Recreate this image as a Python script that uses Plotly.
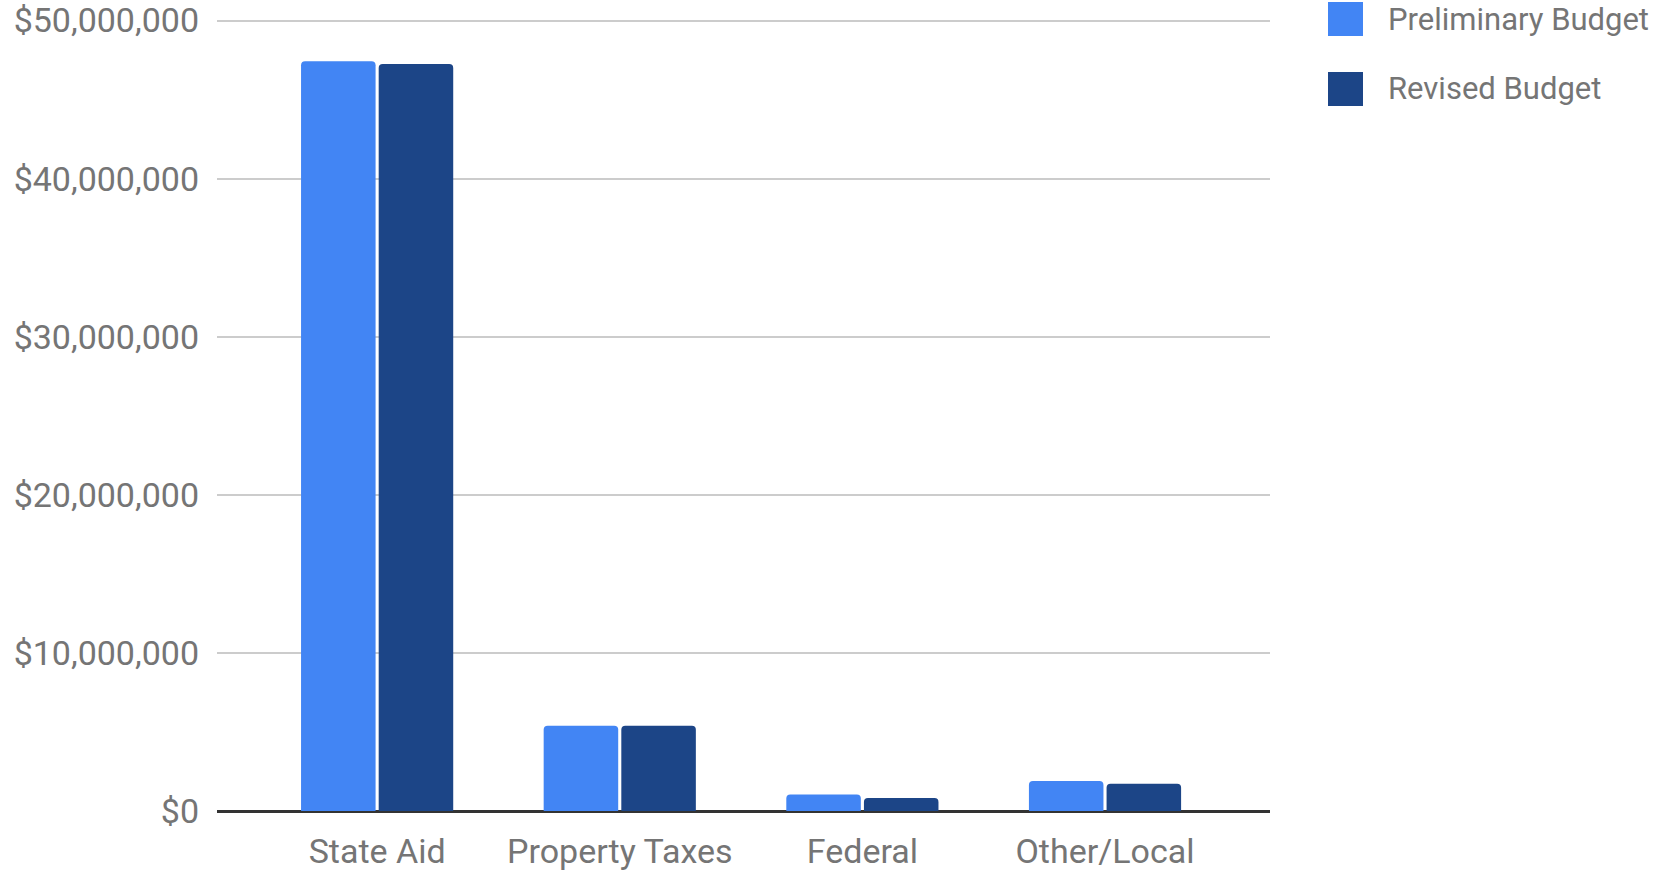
import plotly.graph_objects as go

categories = ["State Aid", "Property Taxes", "Federal", "Other/Local"]
preliminary = [47_420_000, 5_400_000, 1_040_000, 1_900_000]
revised = [47_250_000, 5_400_000, 830_000, 1_730_000]
series_names = ["Preliminary Budget", "Revised Budget"]
y_ticks = [0, 10_000_000, 20_000_000, 30_000_000, 40_000_000, 50_000_000]
y_tick_labels = ["$0", "$10,000,000", "$20,000,000", "$30,000,000", "$40,000,000", "$50,000,000"]

colors = ["#4285F4", "#1C4587"]
font_family = "Roboto"
gray = "#757575"

W, H = 1673, 870
ml, mr, mt, mb = 217, 403, 19, 59

fig = go.Figure()
for name, vals, c in zip(series_names, [preliminary, revised], colors):
    fig.add_trace(go.Bar(x=categories, y=vals, name=name, marker_color=c,
                         marker_line_width=0, showlegend=False))

fig.update_layout(
    width=W, height=H,
    margin=dict(l=ml, r=mr, t=mt, b=mb, pad=0, autoexpand=False),
    paper_bgcolor="white", plot_bgcolor="white",
    barmode="group", bargap=0.36, bargroupgap=0.04, barcornerradius=4,
    font=dict(family=font_family, color=gray, size=34),
)
fig.update_yaxes(range=[0, 50_100_000], tickvals=y_ticks, ticktext=y_tick_labels,
                 automargin=False,
                 showgrid=True, gridcolor="#cccccc", gridwidth=1.5,
                 zeroline=True, zerolinecolor="#333333", zerolinewidth=2.5,
                 showline=False, ticks="", ticklabelstandoff=17,
                 tickfont=dict(size=34, color=gray, family=font_family))
fig.update_xaxes(range=[-0.66, 3.68], showgrid=False, showline=False, ticks="",
                 automargin=False, ticklabelstandoff=17,
                 tickfont=dict(size=34, color=gray, family=font_family))

# custom legend (large square swatches)
plot_w = W - ml - mr
plot_h = H - mt - mb
def px_x(x):
    return (x - ml) / plot_w
def px_y(y):
    return (H - mb - y) / plot_h

legend_rows = [19, 89]
for name, c, cy in zip(series_names, colors, legend_rows):
    fig.add_shape(type="rect", xref="paper", yref="paper",
                  x0=px_x(1328), x1=px_x(1363), y0=px_y(cy + 17), y1=px_y(cy - 17),
                  fillcolor=c, line_width=0)
    fig.add_annotation(xref="paper", yref="paper", x=px_x(1386), y=px_y(cy),
                       text=name, showarrow=False, xanchor="left", yanchor="middle",
                       font=dict(size=31, color=gray, family=font_family))

fig.write_html("out.html")
